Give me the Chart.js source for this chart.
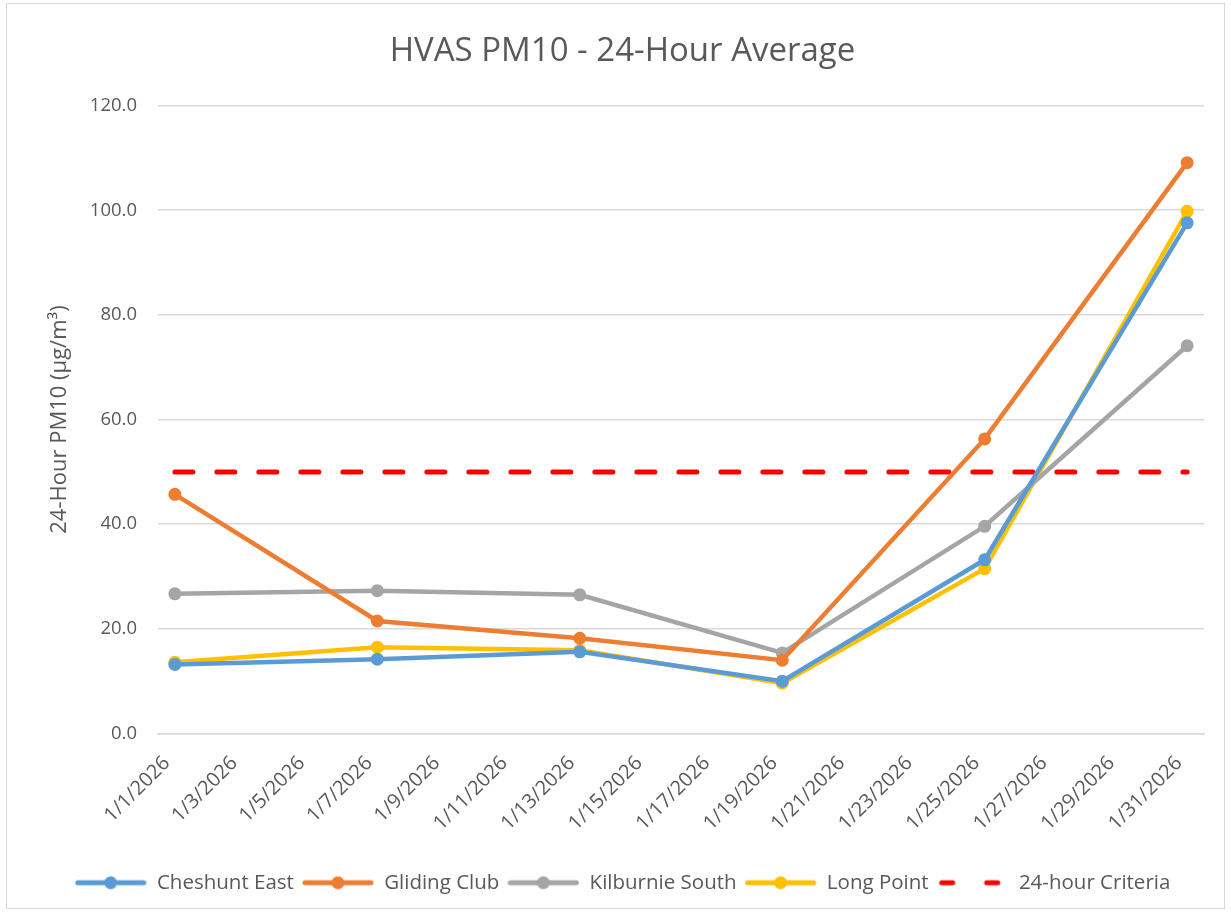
<!DOCTYPE html>
<html>
<head>
<meta charset="utf-8">
<script src="https://cdn.jsdelivr.net/npm/chart.js@4.4.1/dist/chart.umd.min.js"></script>
<style>
  html, body { margin: 0; padding: 0; background: #fff; }
  #wrap { position: absolute; left: 6px; top: 3px; width: 1219px; height: 906px; border: 1px solid #d9d9d9; box-sizing: border-box; }
  canvas { display: block; }
</style>
</head>
<body>
<div id="wrap"><canvas id="pm10-chart"></canvas></div>
<script>
// every day in January shows up as a category; only every second one gets a label
const days = []
for (let d = 1; d <= 31; d++) days.push("1/" + d + "/2026")

const sampleDates = ["1/1/2026", "1/7/2026", "1/13/2026", "1/19/2026", "1/25/2026", "1/31/2026"]
const cheshuntEast = [13.2, 14.2, 15.6, 10.0, 33.2, 97.6]
const glidingClub = [45.7, 21.5, 18.2, 14.0, 56.3, 109.1]
const kilburnieSouth = [26.7, 27.3, 26.5, 15.4, 39.6, 74.1]
const longPoint = [13.6, 16.5, 15.9, 9.6, 31.5, 99.8]
const criteriaDates = ["1/1/2026", "1/31/2026"]
const criteria = [50, 50]

const yTicks = [0, 20, 40, 60, 80, 100, 120]

const textColor = "#595959"
const gridColor = "#d9d9d9"
const fontFamily = "'Open Sans', 'Noto Sans', sans-serif"

function points(dates, values) {
  return dates.map((d, i) => ({ x: d, y: values[i] }))
}

// little line+marker swatch like the Excel legend
function swatch(color, dashed) {
  const c = document.createElement("canvas")
  c.width = 72
  c.height = 16
  const ctx = c.getContext("2d")
  ctx.strokeStyle = color
  ctx.lineWidth = 5
  ctx.lineCap = "round"
  if (dashed) {
    ctx.beginPath()
    ctx.moveTo(5, 8); ctx.lineTo(16, 8)
    ctx.moveTo(50, 8); ctx.lineTo(61, 8)
    ctx.stroke()
  } else {
    ctx.beginPath()
    ctx.moveTo(3, 8); ctx.lineTo(69, 8)
    ctx.stroke()
    ctx.fillStyle = color
    ctx.beginPath()
    ctx.arc(36, 8, 6.5, 0, Math.PI * 2)
    ctx.fill()
  }
  return c
}

function series(label, dates, values, color) {
  return {
    label: label,
    data: points(dates, values),
    borderColor: color,
    backgroundColor: color,
    borderWidth: 4.5,
    pointRadius: 6.5,
    pointHoverRadius: 6.5,
    pointBorderWidth: 0,
    pointStyle: "circle",
    legendSwatch: swatch(color, false),
  }
}

document.addEventListener("DOMContentLoaded", () => {
  const ctx = document.getElementById("pm10-chart")
  new Chart(ctx, {
    type: "line",
    data: {
      labels: days,
      datasets: [
        series("Cheshunt East", sampleDates, cheshuntEast, "#5B9BD5"),
        series("Gliding Club", sampleDates, glidingClub, "#ED7D31"),
        series("Kilburnie South", sampleDates, kilburnieSouth, "#A5A5A5"),
        series("Long Point", sampleDates, longPoint, "#FFC000"),
        {
          label: "24-hour Criteria",
          data: points(criteriaDates, criteria),
          borderColor: "#FF0000",
          backgroundColor: "#FF0000",
          borderWidth: 5,
          borderDash: [18, 24],
          borderCapStyle: "round",
          pointRadius: 0,
          legendSwatch: swatch("#FF0000", true),
        },
      ],
    },
    options: {
      responsive: true,
      maintainAspectRatio: false,
      animation: false,
      layout: { padding: { left: 34, right: 20, top: 10, bottom: 5 } },
      plugins: {
        title: {
          display: true,
          text: "HVAS PM10 - 24-Hour Average",
          color: textColor,
          font: { family: fontFamily, size: 33, weight: "normal" },
          padding: { top: 18, bottom: 34 },
        },
        legend: {
          position: "bottom",
          labels: {
            color: textColor,
            font: { family: fontFamily, size: 20.5 },
            usePointStyle: true,
            pointStyleWidth: 72,
            padding: 8,
            generateLabels: (chart) =>
              chart.data.datasets.map((ds, i) => ({
                text: ds.label,
                fontColor: textColor,
                pointStyle: ds.legendSwatch,
                lineWidth: 0,
                strokeStyle: "transparent",
                fillStyle: "transparent",
                datasetIndex: i,
              })),
          },
        },
        tooltip: { enabled: false },
      },
      scales: {
        x: {
          type: "category",
          offset: true,
          grid: { display: false },
          border: { display: true, color: gridColor, width: 1.5 },
          afterFit: (axis) => {
            axis.height = 131
          },
          ticks: {
            autoSkip: false,
            maxRotation: 45,
            minRotation: 45,
            padding: 10,
            labelOffset: -8,
            color: textColor,
            font: { family: fontFamily, size: 20 },
            callback: (value, index) => (index % 2 === 0 ? days[index] : ""),
          },
        },
        y: {
          min: 0,
          max: 120,
          afterBuildTicks: (axis) => {
            axis.ticks = yTicks.map((v) => ({ value: v }))
          },
          afterFit: (axis) => {
            axis.width = 117
          },
          grid: { color: gridColor, lineWidth: 1.5, drawTicks: false },
          border: { display: false },
          ticks: {
            color: textColor,
            padding: 21,
            font: { family: fontFamily, size: 18.5 },
            callback: (value) => value.toFixed(1),
          },
          title: {
            display: true,
            text: "24-Hour PM10 (µg/m³)",
            color: textColor,
            font: { family: fontFamily, size: 22 },
            padding: { top: 6, bottom: 0 },
          },
        },
      },
    },
  })
})
</script>
</body>
</html>
